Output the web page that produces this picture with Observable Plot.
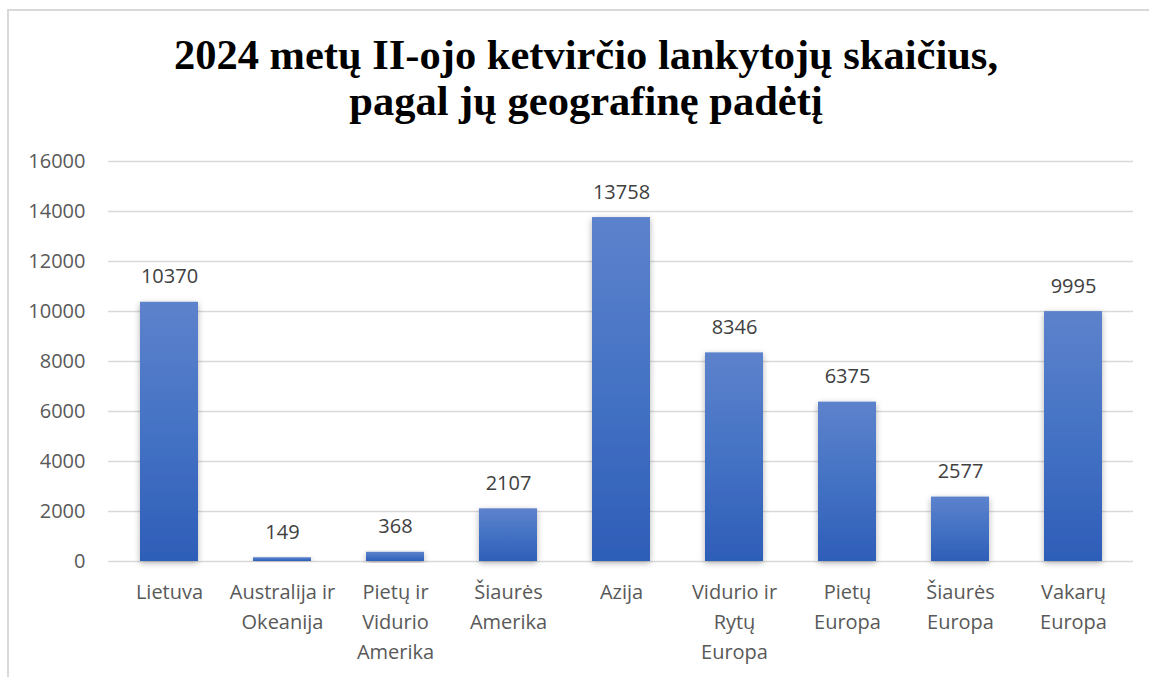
<!DOCTYPE html>
<html>
<head>
<meta charset="utf-8">
<script src="https://cdn.jsdelivr.net/npm/d3@7"></script>
<script src="https://cdn.jsdelivr.net/npm/@observablehq/plot@0.6"></script>
<style>
  html, body { margin: 0; padding: 0; background: #fff; width: 1149px; height: 677px; overflow: hidden; }
  #frame { position: absolute; left: 7px; top: 9px; width: 1200px; height: 700px;
           border-left: 2px solid #d9d9d9; border-top: 2px solid #d9d9d9; box-sizing: border-box; }
  #title { position: absolute; left: 0; width: 1172px; top: 31.5px; text-align: center;
           font-family: "Liberation Serif", "Times New Roman", serif; font-weight: bold;
           font-size: 42.5px; line-height: 46px; color: #000; white-space: nowrap; }
  #chart { position: absolute; left: 0; top: 140px; }
</style>
</head>
<body>
<div id="frame"></div>
<div id="title">2024 metų II-ojo ketvirčio lankytojų skaičius,<br>pagal jų geografinę padėtį</div>
<div id="chart"></div>
<script>
const categories = ["Lietuva", "Australija ir Okeanija", "Pietų ir Vidurio Amerika", "Šiaurės Amerika", "Azija", "Vidurio ir Rytų Europa", "Pietų Europa", "Šiaurės Europa", "Vakarų Europa"];
const categoryLabels = ["Lietuva", "Australija ir\nOkeanija", "Pietų ir\nVidurio\nAmerika", "Šiaurės\nAmerika", "Azija", "Vidurio ir\nRytų\nEuropa", "Pietų\nEuropa", "Šiaurės\nEuropa", "Vakarų\nEuropa"];
const visitors = [10370, 149, 368, 2107, 13758, 8346, 6375, 2577, 9995];
const yTicks = [0, 2000, 4000, 6000, 8000, 10000, 12000, 14000, 16000];

const data = categories.map((c, i) => ({category: c, value: visitors[i]}));
const labelOf = new Map(categories.map((c, i) => [c, categoryLabels[i]]));

const defs = () => {
  const ns = "http://www.w3.org/2000/svg";
  const d = document.createElementNS(ns, "defs");
  d.innerHTML = `
    <linearGradient id="barGrad" x1="0" y1="0" x2="0" y2="1">
      <stop offset="0" stop-color="#5d82cc"/>
      <stop offset="0.5" stop-color="#4472c4"/>
      <stop offset="1" stop-color="#2e5eb8"/>
    </linearGradient>
    <filter id="barShadow" x="-30%" y="-10%" width="160%" height="130%">
      <feDropShadow dx="0" dy="2" stdDeviation="3" flood-color="#000" flood-opacity="0.3"/>
    </filter>`;
  return d;
};

const chart = Plot.plot({
  width: 1149,
  height: 537,
  marginTop: 21,
  marginBottom: 116,
  marginLeft: 108,
  marginRight: 16,
  style: {fontFamily: "'Open Sans', sans-serif", fontSize: "20px", color: "#595959", background: "transparent"},
  x: {domain: categories, paddingInner: 0.49, paddingOuter: 0.245, label: null},
  y: {domain: [0, 16000], label: null},
  marks: [
    defs,
    Plot.ruleY(yTicks, {stroke: "#d9d9d9", strokeWidth: 1.5}),
    Plot.barY(data, {x: "category", y: "value", fill: "url(#barGrad)"}),
    Plot.text(data, {x: "category", y: "value", text: d => String(d.value), lineAnchor: "bottom", dy: -19, fill: "#404040", fontSize: 20}),
    Plot.axisY({ticks: yTicks, tickSize: 0, tickPadding: 23, tickFormat: d => String(d), fill: "#595959", fontSize: 20}),
    Plot.axisX({tickSize: 0, tickPadding: 16, tickFormat: d => labelOf.get(d), lineHeight: 1.5, fill: "#595959", fontSize: 20})
  ]
});
chart.querySelectorAll("[aria-label='bar'] rect").forEach(r => r.setAttribute("filter", "url(#barShadow)"));
document.getElementById("chart").appendChild(chart);
</script>
</body>
</html>
